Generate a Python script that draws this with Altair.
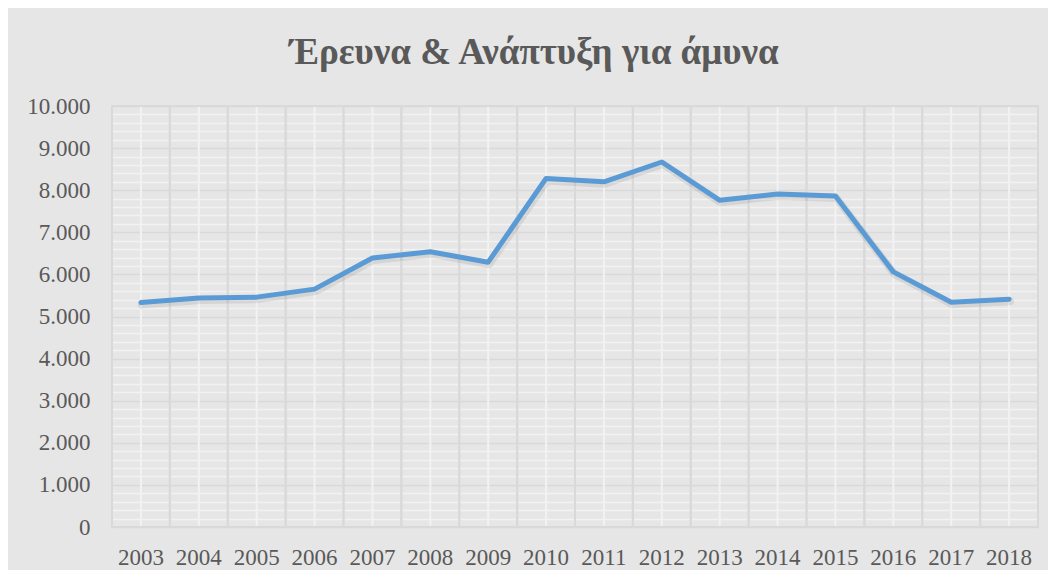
import altair as alt
import pandas as pd

years = [str(y) for y in range(2003, 2019)]
values = [5330, 5440, 5460, 5650, 6390, 6540, 6290, 8280, 8200, 8670, 7760, 7910, 7860, 6060, 5340, 5410]
major_ticks = list(range(0, 10001, 1000))
minor_ticks = [v for v in range(0, 10001, 200) if v % 1000]

df = pd.DataFrame({"year": years, "value": values})

BG = "#e6e6e6"
TEXT = "#595959"
FONT = "Liberation Serif"

x_scale = alt.Scale(type="band", paddingInner=0, paddingOuter=0)
y_scale = alt.Scale(domain=[0, 10000], nice=False)

base = alt.Chart(df)

# white minor horizontal grid (every 200)
minor = base.mark_line(opacity=0).encode(
    x=alt.X("year:N", scale=x_scale, sort=None, axis=None),
    y=alt.Y("value:Q", scale=y_scale,
            axis=alt.Axis(orient="right", values=minor_ticks, grid=True,
                          gridColor="#f2f2f2", gridWidth=1.5, labels=False,
                          ticks=False, domain=False, title=None)),
)

# main line + axes (dark major horizontal grid)
main = base.mark_line(color="#5b9bd5", strokeWidth=5, strokeCap="round",
                      strokeJoin="round").encode(
    x=alt.X("year:N", scale=x_scale, sort=None,
            axis=alt.Axis(orient="bottom", grid=False,
                          ticks=False, domain=False, title=None, labelAngle=0,
                          labelFont=FONT, labelFontSize=23,
                          labelColor=TEXT, labelPadding=19)),
    y=alt.Y("value:Q", scale=y_scale,
            axis=alt.Axis(orient="left", values=major_ticks, grid=True,
                          gridColor="#d9d9d9", gridWidth=1.5, ticks=False,
                          domain=False, title=None, format=",d",
                          labelFont=FONT, labelFontSize=23, labelColor=TEXT,
                          labelPadding=22)),
)

# white vertical lines at category centres
centre_lines = base.mark_rule(color="#f2f2f2", strokeWidth=2).encode(
    x=alt.X("year:N", scale=x_scale, sort=None, axis=None),
    y=alt.datum(0, scale=y_scale, axis=None),
    y2=alt.datum(10000),
)

# dark vertical lines at category boundaries
band_lines = base.mark_rect(fillOpacity=0, stroke="#d9d9d9", strokeWidth=2).encode(
    x=alt.X("year:N", scale=x_scale, sort=None, axis=None),
    y=alt.datum(0, scale=y_scale, axis=None),
    y2=alt.datum(10000),
)

shadow = base.mark_line(color="#000000", opacity=0.08, strokeWidth=8,
                        strokeCap="round", strokeJoin="round",
                        xOffset=1, yOffset=2).encode(
    x=alt.X("year:N", scale=x_scale, sort=None, axis=None),
    y=alt.Y("value:Q", scale=y_scale, axis=None),
)

chart = alt.layer(minor, centre_lines, band_lines, shadow, main).resolve_axis(
    x="independent", y="independent"
).properties(
    width=926,
    height=421,
    autosize=alt.AutoSizeParams(type="none"),
    padding={"left": 104, "top": 98, "right": 10, "bottom": 43},
    background=BG,
    title=alt.TitleParams(
        text="Έρευνα & Ανάπτυξη για άμυνα",
        font=FONT, fontSize=37, fontWeight="bold", color=TEXT,
        anchor="middle", frame="group", baseline="alphabetic",
        offset=41, dx=-41, dy=47,
    ),
).configure_view(stroke=None, fill=BG).configure(
    locale={"number": {"decimal": ",", "thousands": ".", "grouping": [3], "currency": ["", "€"]}}
)

chart.save("out.html", embed_options={"renderer": "svg", "actions": False})
